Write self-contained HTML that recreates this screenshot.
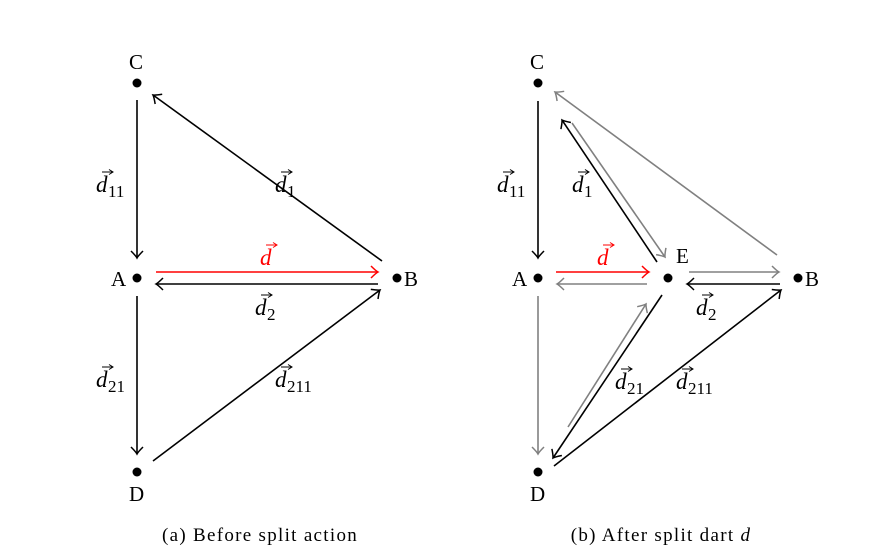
<!DOCTYPE html>
<html><head><meta charset="utf-8"><style>
html,body{margin:0;padding:0;background:#fff;}
svg{display:block;font-family:"Liberation Serif",serif;}
</style></head><body>
<svg width="877" height="560" viewBox="0 0 877 560" xmlns="http://www.w3.org/2000/svg">
<defs>
<marker id="ak" markerUnits="userSpaceOnUse" markerWidth="20" markerHeight="20" refX="0" refY="0" viewBox="-10 -10 20 20" orient="auto">
<path d="M-7,-6 Q-2,-1 0,0 Q-2,1 -7,6" fill="none" stroke="#000" stroke-width="1.5"/></marker>
<marker id="ag" markerUnits="userSpaceOnUse" markerWidth="20" markerHeight="20" refX="0" refY="0" viewBox="-10 -10 20 20" orient="auto">
<path d="M-7,-6 Q-2,-1 0,0 Q-2,1 -7,6" fill="none" stroke="#808080" stroke-width="1.5"/></marker>
<marker id="ar" markerUnits="userSpaceOnUse" markerWidth="20" markerHeight="20" refX="0" refY="0" viewBox="-10 -10 20 20" orient="auto">
<path d="M-7,-6 Q-2,-1 0,0 Q-2,1 -7,6" fill="none" stroke="#f00" stroke-width="1.5"/></marker>
</defs>
<g font-size="21" fill="#000">
<circle cx="137" cy="83" r="4.5"/><circle cx="137" cy="278" r="4.5"/><circle cx="397" cy="278" r="4.5"/><circle cx="137" cy="472" r="4.5"/>
<text x="129" y="69">C</text><text x="111" y="286">A</text><text x="404" y="286">B</text><text x="129" y="501">D</text>
<circle cx="538" cy="83" r="4.5"/><circle cx="538" cy="278" r="4.5"/><circle cx="668" cy="278" r="4.5"/><circle cx="798" cy="278" r="4.5"/><circle cx="538" cy="472" r="4.5"/>
<text x="530" y="69">C</text><text x="512" y="286">A</text><text x="676" y="263">E</text><text x="805" y="286">B</text><text x="530" y="501">D</text>
</g>
<g fill="none" stroke-width="1.6">
<line x1="137" y1="100" x2="137" y2="258" stroke="#000" marker-end="url(#ak)"/>
<line x1="382" y1="261" x2="153" y2="95" stroke="#000" marker-end="url(#ak)"/>
<line x1="156" y1="272" x2="378" y2="272" stroke="#f00" marker-end="url(#ar)"/>
<line x1="378" y1="284" x2="156" y2="284" stroke="#000" marker-end="url(#ak)"/>
<line x1="137" y1="296" x2="137" y2="454" stroke="#000" marker-end="url(#ak)"/>
<line x1="153" y1="461" x2="380" y2="290" stroke="#000" marker-end="url(#ak)"/>
<line x1="538" y1="101" x2="538" y2="258" stroke="#000" marker-end="url(#ak)"/>
<line x1="777" y1="255" x2="555" y2="92" stroke="#808080" marker-end="url(#ag)"/>
<line x1="657" y1="262" x2="562" y2="120" stroke="#000" marker-end="url(#ak)"/>
<line x1="572" y1="123" x2="665" y2="257" stroke="#808080" marker-end="url(#ag)"/>
<line x1="556" y1="272" x2="649" y2="272" stroke="#f00" marker-end="url(#ar)"/>
<line x1="647" y1="284" x2="557" y2="284" stroke="#808080" marker-end="url(#ag)"/>
<line x1="689" y1="272" x2="779" y2="272" stroke="#808080" marker-end="url(#ag)"/>
<line x1="780" y1="284" x2="687" y2="284" stroke="#000" marker-end="url(#ak)"/>
<line x1="538" y1="296" x2="538" y2="454" stroke="#808080" marker-end="url(#ag)"/>
<line x1="568" y1="427" x2="646" y2="304" stroke="#808080" marker-end="url(#ag)"/>
<line x1="662" y1="295" x2="553" y2="458" stroke="#000" marker-end="url(#ak)"/>
<line x1="554" y1="466" x2="781" y2="290" stroke="#000" marker-end="url(#ak)"/>
</g>
<g font-size="23" font-style="italic">
<g><text x="96" y="192">d</text><text x="108" y="197" font-size="17" font-style="normal">11</text><path d="M102,172 h11 M109,169.5 l4,2.5 l-4,2.5" stroke="#000" fill="none" stroke-width="1"/></g>
<g><text x="275" y="192">d</text><text x="287" y="197" font-size="17" font-style="normal">1</text><path d="M281,172 h11 M288,169.5 l4,2.5 l-4,2.5" stroke="#000" fill="none" stroke-width="1"/></g>
<g fill="#f00"><text x="260" y="265">d</text><path d="M266,245 h11 M273,242.5 l4,2.5 l-4,2.5" stroke="#f00" fill="none" stroke-width="1"/></g>
<g><text x="255" y="315">d</text><text x="267" y="320" font-size="17" font-style="normal">2</text><path d="M261,295 h11 M268,292.5 l4,2.5 l-4,2.5" stroke="#000" fill="none" stroke-width="1"/></g>
<g><text x="96" y="387">d</text><text x="108" y="392" font-size="17" font-style="normal">21</text><path d="M102,367 h11 M109,364.5 l4,2.5 l-4,2.5" stroke="#000" fill="none" stroke-width="1"/></g>
<g><text x="275" y="387">d</text><text x="287" y="392" font-size="17" font-style="normal">211</text><path d="M281,367 h11 M288,364.5 l4,2.5 l-4,2.5" stroke="#000" fill="none" stroke-width="1"/></g>
<g><text x="497" y="192">d</text><text x="509" y="197" font-size="17" font-style="normal">11</text><path d="M503,172 h11 M510,169.5 l4,2.5 l-4,2.5" stroke="#000" fill="none" stroke-width="1"/></g>
<g><text x="572" y="192">d</text><text x="584" y="197" font-size="17" font-style="normal">1</text><path d="M578,172 h11 M585,169.5 l4,2.5 l-4,2.5" stroke="#000" fill="none" stroke-width="1"/></g>
<g fill="#f00"><text x="597" y="265">d</text><path d="M603,245 h11 M610,242.5 l4,2.5 l-4,2.5" stroke="#f00" fill="none" stroke-width="1"/></g>
<g><text x="696" y="315">d</text><text x="708" y="320" font-size="17" font-style="normal">2</text><path d="M702,295 h11 M709,292.5 l4,2.5 l-4,2.5" stroke="#000" fill="none" stroke-width="1"/></g>
<g><text x="615" y="389">d</text><text x="627" y="394" font-size="17" font-style="normal">21</text><path d="M621,369 h11 M628,366.5 l4,2.5 l-4,2.5" stroke="#000" fill="none" stroke-width="1"/></g>
<g><text x="676" y="389">d</text><text x="688" y="394" font-size="17" font-style="normal">211</text><path d="M682,369 h11 M689,366.5 l4,2.5 l-4,2.5" stroke="#000" fill="none" stroke-width="1"/></g>
</g>
<g font-size="19" letter-spacing="1.3">
<text x="260" y="541" text-anchor="middle">(a) Before split action</text>
<text x="661" y="541" text-anchor="middle">(b) After split dart <tspan font-style="italic">d</tspan></text>
</g>
</svg>
</body></html>
